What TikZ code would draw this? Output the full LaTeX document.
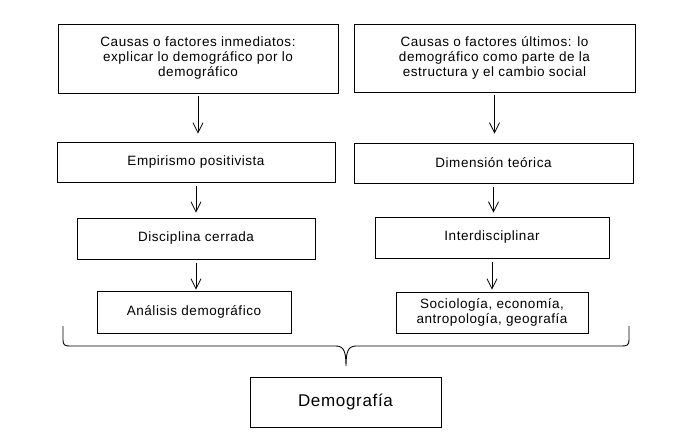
\documentclass[tikz,border=0pt]{standalone}
\usepackage{fontspec}
\setmainfont{Liberation Sans}[LetterSpace=4]
\usetikzlibrary{arrows.meta}
\begin{document}
\begin{tikzpicture}[x=1pt,y=-1pt,
		caja/.style={draw,line width=0.9pt,align=center,inner sep=0pt,font=\fontsize{13.5}{15}\selectfont},
		flecha/.style={-{Straight Barb[length=10pt,width=10pt]},line width=0.8pt,shorten <=3pt}]
	\useasboundingbox (0,0) rectangle (692,437);
	% columna izquierda
	\node[caja,minimum width=280pt,minimum height=69pt] (inmediatos) at (198,58.5) {Causas o factores inmediatos:\\explicar lo demográfico por lo\\demográfico};
	\node[caja,minimum width=278pt,minimum height=40pt] (empirismo) at (196,162) {Empirismo positivista};
	\node[caja,minimum width=238pt,minimum height=41pt] (cerrada) at (196,238.5) {Disciplina cerrada};
	\node[caja,minimum width=194pt,minimum height=42pt] (analisis) at (194,312) {Análisis demográfico};
	% columna derecha
	\node[caja,minimum width=281pt,minimum height=68pt] (ultimos) at (494.5,58) {Causas o factores últimos: lo\\demográfico como parte de la\\estructura y el cambio social};
	\node[caja,minimum width=279pt,minimum height=40pt] (teorica) at (493.5,163) {Dimensión teórica};
	\node[caja,minimum width=234pt,minimum height=41pt] (inter) at (492,237.5) {Interdisciplinar};
	\node[caja,minimum width=192pt,minimum height=41pt] (disciplinas) at (492,312.5) {Sociología, economía,\\antropología, geografía};
	% abajo
	\node[caja,minimum width=191pt,minimum height=50pt,font=\fontsize{17}{20}\selectfont] (demografia) at (345.5,402) {Demografía};
	\draw[flecha,shorten >=8pt] (inmediatos.south) -- (inmediatos.south |- empirismo.north);
	\draw[flecha,shorten <=4pt,shorten >=5pt] (empirismo.south) -- (empirismo.south |- cerrada.north);
	\draw[flecha,shorten <=4pt,shorten >=1pt] (cerrada.south) -- (cerrada.south |- analisis.north);
	\draw[flecha,shorten >=9pt] (ultimos.south) -- (ultimos.south |- teorica.north);
	\draw[flecha,shorten <=4pt,shorten >=4pt] (teorica.south) -- (teorica.south |- inter.north);
	\draw[flecha,shorten <=4pt,shorten >=2pt] (inter.south) -- (inter.south |- disciplinas.north);
	% llave
	\coordinate (llaveIzq) at (63,326);
	\coordinate (llaveDer) at (629,326);
	\coordinate (llavePico) at (346,366);
	\draw[line width=0.9pt] (llaveIzq) -- ++(0,14) .. controls ++(0,5) and ++(-5,0) .. (70,346)
		-- (336,346) .. controls (344,346) and (346,352) .. (llavePico)
		.. controls (346,352) and (348,346) .. (356,346) -- (622,346)
		.. controls ++(5,0) and ++(0,5) .. (629,340) -- (llaveDer);
\end{tikzpicture}
\end{document}
